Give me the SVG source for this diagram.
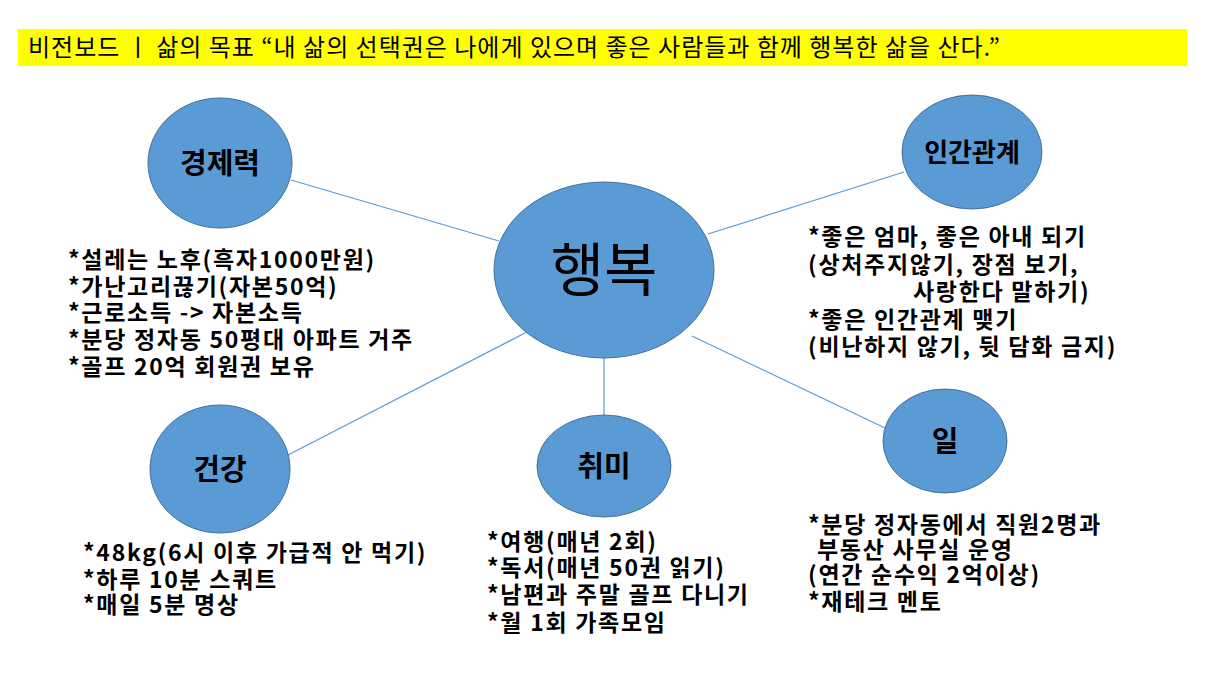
<svg xmlns="http://www.w3.org/2000/svg" width="1205" height="680" viewBox="0 0 1205 680">
<style>
.node{fill:#5B9BD5;stroke:#41719C;stroke-width:1}
.lbl{font-family:"Malgun Gothic","Noto Sans CJK KR",sans-serif;font-weight:bold;fill:#000;text-anchor:middle}
.txt{font-family:"Malgun Gothic","Noto Sans CJK KR",sans-serif;font-weight:bold;font-size:23px;letter-spacing:1.7px;fill:#000}
.conn line{stroke:#5B9BD5;stroke-width:1.2}
</style>
<rect width="1205" height="680" fill="#fff"/>
<g id="header">
<rect x="18" y="29" width="1169" height="37" fill="#FFFF00"/>
<text x="28" y="56" font-family="Malgun Gothic,Noto Sans CJK KR,sans-serif" font-size="24" letter-spacing="1" fill="#000">비전보드  ㅣ  삶의 목표 “내 삶의 선택권은 나에게 있으며 좋은 사람들과 함께 행복한 삶을 산다.”</text>
</g>
<g id="connectors" class="conn">
<line x1="291" y1="180" x2="499" y2="241"/>
<line x1="904" y1="172" x2="708" y2="234"/>
<line x1="288" y1="455" x2="527" y2="332"/>
<line x1="604" y1="357" x2="604" y2="415"/>
<line x1="885" y1="428" x2="692" y2="336"/>
</g>
<g id="node-happiness">
<ellipse class="node" cx="604" cy="270" rx="110" ry="88"/>
<text x="604" y="291" font-family="Malgun Gothic,Noto Sans CJK KR,sans-serif" font-size="58" text-anchor="middle" fill="#000">행복</text>
</g>
<g id="node-economy">
<ellipse class="node" cx="220" cy="163" rx="72" ry="65"/>
<text class="lbl" x="220" y="174" font-size="29">경제력</text>
</g>
<g id="node-relations">
<ellipse class="node" cx="972" cy="152" rx="70" ry="57"/>
<text class="lbl" x="972" y="162" font-size="26">인간관계</text>
</g>
<g id="node-health">
<ellipse class="node" cx="220" cy="469" rx="70" ry="64"/>
<text class="lbl" x="220" y="480" font-size="29">건강</text>
</g>
<g id="node-hobby">
<ellipse class="node" cx="604" cy="466" rx="67" ry="51"/>
<text class="lbl" x="604" y="477" font-size="29">취미</text>
</g>
<g id="node-work">
<ellipse class="node" cx="945" cy="441" rx="62" ry="52"/>
<text class="lbl" x="945" y="452" font-size="29">일</text>
</g>
<g id="text-economy" class="txt">
<text x="68" y="268">*설레는 노후(흑자1000만원)</text>
<text x="68" y="295">*가난고리끊기(자본50억)</text>
<text x="68" y="321">*근로소득 -&gt; 자본소득</text>
<text x="68" y="348">*분당 정자동 50평대 아파트 거주</text>
<text x="68" y="375">*골프 20억 회원권 보유</text>
</g>
<g id="text-relations" class="txt">
<text x="808" y="245">*좋은 엄마, 좋은 아내 되기</text>
<text x="808" y="273">(상처주지않기, 장점 보기,</text>
<text x="913" y="300">사랑한다 말하기)</text>
<text x="808" y="328">*좋은 인간관계 맺기</text>
<text x="808" y="355">(비난하지 않기, 뒷 담화 금지)</text>
</g>
<g id="text-health" class="txt">
<text x="83" y="561">*48kg(6시 이후 가급적 안 먹기)</text>
<text x="83" y="588">*하루 10분 스쿼트</text>
<text x="83" y="613">*매일 5분 명상</text>
</g>
<g id="text-hobby" class="txt">
<text x="487" y="550">*여행(매년 2회)</text>
<text x="487" y="576">*독서(매년 50권 읽기)</text>
<text x="487" y="603">*남편과 주말 골프 다니기</text>
<text x="487" y="631">*월 1회 가족모임</text>
</g>
<g id="text-work" class="txt">
<text x="808" y="533">*분당 정자동에서 직원2명과</text>
<text x="817" y="558">부동산 사무실 운영</text>
<text x="808" y="583">(연간 순수익 2억이상)</text>
<text x="808" y="610">*재테크 멘토</text>
</g>
</svg>
